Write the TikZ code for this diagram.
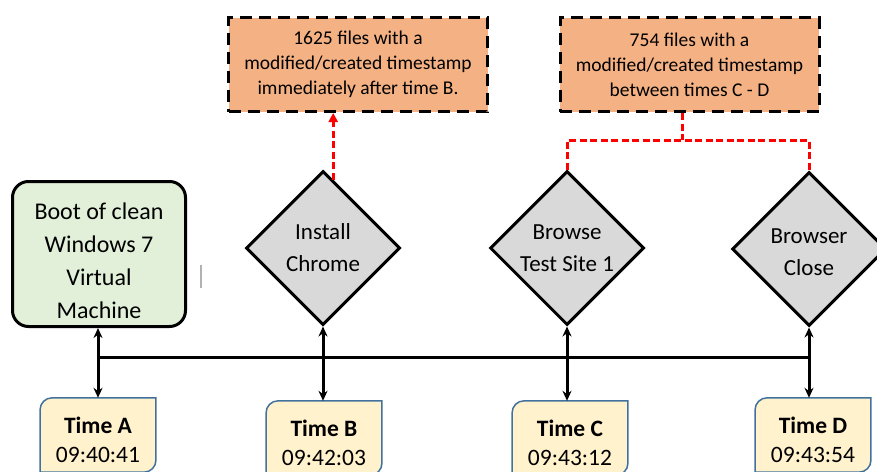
\documentclass[tikz,border=0pt]{standalone}
\usepackage{fontspec}
\setmainfont{Carlito}
\usetikzlibrary{shapes.geometric,arrows.meta,calc,backgrounds}
\definecolor{bootgreen}{RGB}{226,240,217}
\definecolor{noteorange}{RGB}{244,177,131}
\definecolor{stepgray}{RGB}{217,217,217}
\definecolor{timeyellow}{RGB}{255,242,204}
\definecolor{timeblue}{RGB}{65,113,156}
\definecolor{hintred}{RGB}{255,0,0}

\begin{document}
\begin{tikzpicture}[x=1pt,y=-1pt,
  bootbox/.style={draw,line width=3pt,fill=bootgreen,rounded corners=16pt,
    minimum width=173pt,minimum height=145pt,align=center,
    font=\fontsize{24}{33}\selectfont},
  stepbox/.style={diamond,draw,line width=3pt,fill=stepgray,inner sep=0pt,
    minimum width=154pt,minimum height=154pt,align=center,
    font=\fontsize{23}{32}\selectfont},
  notebox/.style={draw,line width=3pt,dash pattern=on 12pt off 7pt,fill=noteorange,
    minimum width=259pt,minimum height=94pt,align=center,
    font=\fontsize{19.5}{25}\selectfont},
  timebox/.style={minimum width=115.5pt,minimum height=74pt,align=center,
    font=\fontsize{23.5}{29}\selectfont},
  tframe/.style={draw=timeblue,line width=1.5pt,fill=timeyellow},
  link/.style={line width=3pt,{Stealth[length=10pt,width=9pt]}-{Stealth[length=10pt,width=9pt]}},
  hint/.style={hintred,line width=3pt,dash pattern=on 7pt off 3.5pt}]
\useasboundingbox (0,0) rectangle (877,471);
\begin{scope}
\clip (0,0) rectangle (877,471);

% Start state
\node[bootbox] (boot) at (99,254) {\rule{0pt}{30pt}Boot of clean\\Windows 7\\Virtual\\Machine};

% Steps
\node[stepbox] (chrome) at (323,248) {Install\\Chrome};
\node[stepbox] (browse) at (567,248) {Browse\\Test Site 1};
\node[stepbox] (close) at (809,249) {\rule{0pt}{22pt}Browser\\Close};

% Findings
\node[notebox] (fa) at (358,64.5) {1625 files with a\\modified/created timestamp\\immediately after time B.};
\node[notebox] (fb) at (689.5,64.5) {754 files with a\\modified/created timestamp\\between times C - D};

% Times
\node[timebox] (ta) at (98,435) {\rule{0pt}{26pt}\textbf{Time A}\\09:40:41};
\node[timebox] (tb) at (324,438) {\rule{0pt}{26pt}\textbf{Time B}\\09:42:03};
\node[timebox] (tc) at (570,438) {\rule{0pt}{26pt}\textbf{Time C}\\09:43:12};
\node[timebox] (td) at (813,435) {\rule{0pt}{26pt}\textbf{Time D}\\09:43:54};
\begin{scope}[on background layer]
\foreach \t in {ta,tb,tc,td}
  \filldraw[tframe] (\t.south west) [rounded corners=12pt] -- (\t.north west)
    [sharp corners] -- (\t.north east) [rounded corners=12pt] -- (\t.south east)
    [sharp corners] -- cycle;
\end{scope}

% Timeline
\coordinate (jl) at (98,357);
\coordinate (jr) at (809,357);
\draw[line width=3pt] (jl) -- (jr);
\draw[link] (ta.north) -- (ta.north |- boot.south);
\draw[link] (tb.north -| chrome.south) -- (chrome.south);
\draw[link] (tc.north -| browse.south) -- (browse.south);
\draw[link] (td.north -| close.south) -- (close.south);

% Red hints
\coordinate (cb) at ($(chrome.north)!0.13!(chrome.east)$);
\draw[hint,-{Triangle[length=9pt,width=9pt]}] (cb) -- (cb |- fa.south);
\coordinate (fork) at (682,140);
\draw[hint] (fb.south -| fork) -- (fork);
\draw[hint] (browse.north) |- (fork) -| (close.north);

% Stray mark
\draw[gray!60,line width=1.5pt] (201,265) -- (201,288);
\end{scope}
\end{tikzpicture}
\end{document}
